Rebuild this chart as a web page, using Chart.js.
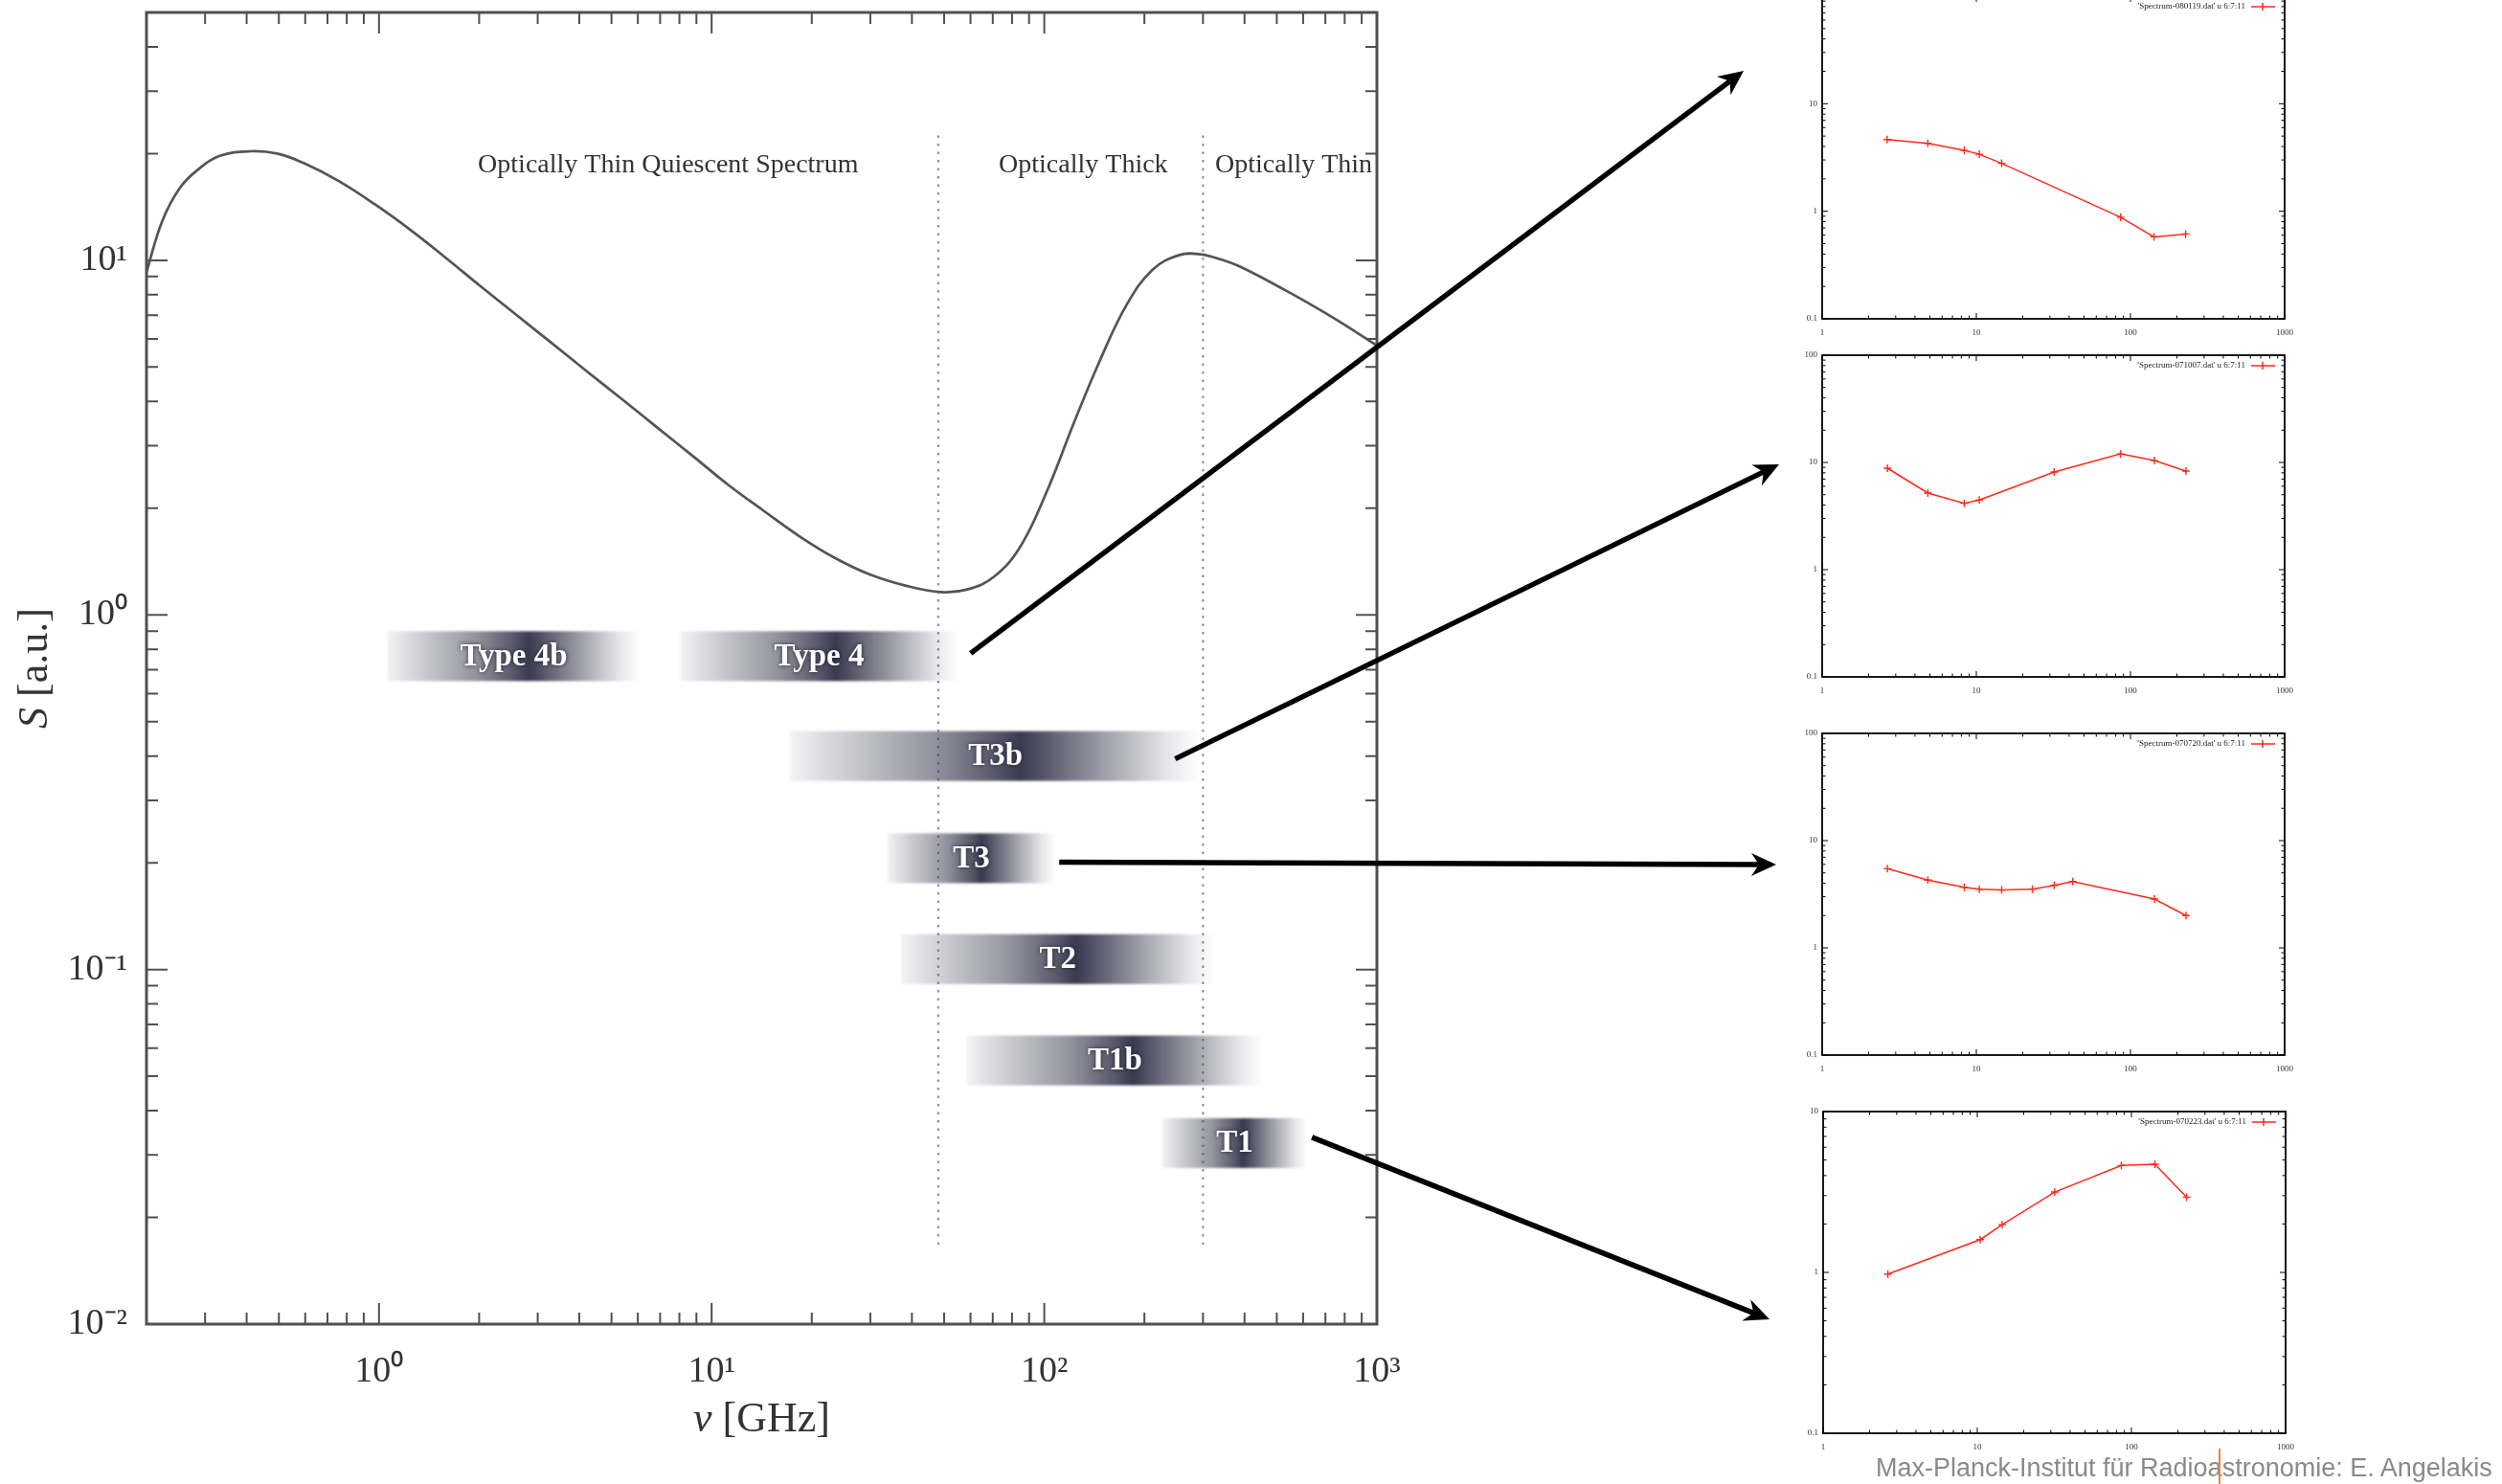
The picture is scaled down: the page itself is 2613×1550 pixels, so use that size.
<!DOCTYPE html>
<html>
<head>
<meta charset="utf-8">
<title>Blazar spectral evolution</title>
<script src="https://cdn.jsdelivr.net/npm/chart.js@4.4.1/dist/chart.umd.min.js"></script>
<style>
  html, body { margin: 0; padding: 0; background: #fff; width: 2613px; height: 1550px; overflow: hidden; }
  canvas { position: absolute; }
  #footer { position: absolute; left: 1959px; top: 1520px; font: 27px/27px "Liberation Sans", Arial, sans-serif; color: #8a8a8a; white-space: nowrap; }
  #cursor { position: absolute; left: 2317px; top: 1513px; width: 2px; height: 37px; background: #f08040; }
</style>
</head>
<body>
<canvas id="main" width="1500" height="1550" style="left:0;top:0"></canvas>
<canvas id="inset1"></canvas>
<canvas id="inset2"></canvas>
<canvas id="inset3"></canvas>
<canvas id="inset4"></canvas>
<canvas id="overlay" width="2613" height="1550" style="left:0;top:0;pointer-events:none"></canvas>
<div id="footer">Max-Planck-Institut für Radioastronomie: E. Angelakis</div>
<div id="cursor"></div>
<script>
// ---- Model spectrum: quiescent optically thin part plus a flaring component ----
const spectrumFreq = [0.2, 0.223, 0.252, 0.285, 0.332, 0.411, 0.494, 0.594, 0.759, 0.97,
  1.24, 1.58, 2.02, 2.58, 3.30, 4.22, 5.39, 6.88, 8.80, 11.2,
  14.4, 18.3, 23.4, 29.9, 38.2, 48.8, 58.7, 70.5, 84.8, 102,
  122, 147, 177, 212, 255, 295, 340, 392, 532, 723, 1000];
const spectrumFlux = [9.27, 12.9, 16.0, 18.0, 19.7, 20.3, 20.0, 18.8, 16.7, 14.4,
  12.2, 10.2, 8.45, 7.03, 5.85, 4.86, 4.05, 3.37, 2.80, 2.33,
  1.96, 1.67, 1.45, 1.30, 1.21, 1.16, 1.18, 1.28, 1.56, 2.24,
  3.43, 5.22, 7.50, 9.42, 10.35, 10.4, 10.05, 9.55, 8.22, 6.97, 5.75];

// Regime boundaries (GHz) and the vertical extent of the dotted markers
const regimeBoundaries = [48, 300];
const boundaryTop = 22.5;
const boundaryBottom = 0.0165;

// Regime captions, centred on these frequencies
const regimeNames = ['Optically Thin Quiescent Spectrum', 'Optically Thick', 'Optically Thin'];
const regimeCentres = [7.4, 131, 562];
const regimeCaptionLevel = 17.7;

// Spectral types: frequency span (GHz) and level (a.u.)
const typeLabels = ['Type 4b', 'Type 4', 'T3b', 'T3', 'T2', 'T1b', 'T1'];
const typeLow    = [1.06, 8.04, 17.2, 33.8, 37.1, 58.5, 226];
const typeHigh   = [6.09, 55.1, 296, 108, 325, 455, 617];
const typeLevel  = [0.765, 0.765, 0.40, 0.206, 0.107, 0.0554, 0.0324];

// Axis ticks
const mainXTicks = [1, 10, 100, 1000];
const mainXTickLabels = ['10⁰', '10¹', '10²', '10³'];
const mainYTicks = [0.01, 0.1, 1, 10];
const mainYTickLabels = ['10⁻²', '10⁻¹', '10⁰', '10¹'];

// ---- Observed example spectra (GHz, Jy) ----
const freq080119 = [2.64, 4.85, 8.35, 10.45, 14.6, 86.2, 142, 228];
const flux080119 = [4.64, 4.27, 3.68, 3.39, 2.79, 0.88, 0.578, 0.615];
const freq071007 = [2.65, 4.85, 8.35, 10.45, 32, 86.2, 143, 229];
const flux071007 = [8.84, 5.18, 4.16, 4.46, 8.15, 12.0, 10.4, 8.32];
const freq070720 = [2.65, 4.85, 8.35, 10.45, 14.6, 23.1, 32, 42.2, 143, 229];
const flux070720 = [5.47, 4.28, 3.67, 3.53, 3.46, 3.53, 3.83, 4.16, 2.85, 2.0];
const freq070223 = [2.63, 10.45, 14.5, 31.8, 86, 142, 228];
const flux070223 = [0.977, 1.60, 1.98, 3.16, 4.62, 4.71, 2.93];

const insetNames = ["'Spectrum-080119.dat' u 6:7:11", "'Spectrum-071007.dat' u 6:7:11",
                    "'Spectrum-070720.dat' u 6:7:11", "'Spectrum-070223.dat' u 6:7:11"];
const insetXTicks = [1, 10, 100, 1000];
const insetXTickLabels = ['1', '10', '100', '1000'];
const insetYTicks = [0.1, 1, 10, 100];
const insetYTickLabels = ['0.1', '1', '10', '100'];
const insetYMax = [100, 100, 100, 10];

// ---- Layout ----
const MAIN_AREA = { left: 153, top: 13, right: 1438, bottom: 1383 };
const INSET_AREAS = [
  { left: 1903, top: -4,   right: 2386, bottom: 333 },
  { left: 1903, top: 371,  right: 2386, bottom: 707 },
  { left: 1903, top: 766,  right: 2386, bottom: 1102 },
  { left: 1904, top: 1161, right: 2387, bottom: 1497 }
];
// arrow: [type label, dx, dy from the right end of that band] -> tip on the page
const ARROWS = [
  { from: 'Type 4', dx: 13,  dy: -3, tip: [1821, 74] },
  { from: 'T3b',    dx: -27, dy: 3,  tip: [1858, 485] },
  { from: 'T3',     dx: 4,   dy: 4,  tip: [1855, 903] },
  { from: 'T1',     dx: 5,   dy: -6, tip: [1848, 1378] }
];

const SERIF = '"Liberation Serif", "Times New Roman", serif';

function eachLogTick(min, max, cb) {
  const e0 = Math.floor(Math.log10(min)), e1 = Math.ceil(Math.log10(max));
  for (let e = e0; e <= e1; e++) {
    for (let m = 1; m <= 9; m++) {
      const v = m * Math.pow(10, e);
      if (v >= min * 0.9999 && v <= max * 1.0001) cb(v, m === 1);
    }
  }
}

function drawFrame(chart, st) {
  const { ctx, chartArea: a, scales: { x, y } } = chart;
  ctx.save();
  ctx.strokeStyle = st.color;
  ctx.lineWidth = st.tickWidth;
  ctx.beginPath();
  eachLogTick(x.min, x.max, (v, major) => {
    const p = x.getPixelForValue(v), L = major ? st.major : st.minor;
    ctx.moveTo(p, a.bottom); ctx.lineTo(p, a.bottom - L);
    ctx.moveTo(p, a.top); ctx.lineTo(p, a.top + L);
  });
  eachLogTick(y.min, y.max, (v, major) => {
    const p = y.getPixelForValue(v), L = major ? st.major : st.minor;
    ctx.moveTo(a.left, p); ctx.lineTo(a.left + L, p);
    ctx.moveTo(a.right, p); ctx.lineTo(a.right - L, p);
  });
  ctx.stroke();
  ctx.lineWidth = st.frameWidth;
  ctx.strokeRect(a.left, a.top, a.right - a.left, a.bottom - a.top);
  ctx.restore();
}

function drawMixed(ctx, parts, cx, baseline) {
  let w = 0;
  parts.forEach(p => { ctx.font = p.font; p.w = ctx.measureText(p.text).width; w += p.w; });
  let xx = cx - w / 2;
  ctx.textAlign = 'left';
  ctx.textBaseline = 'alphabetic';
  parts.forEach(p => { ctx.font = p.font; ctx.fillText(p.text, xx, baseline); xx += p.w; });
}

// ---- Main spectrum chart ----
const bandPlugin = {
  id: 'typeBands',
  afterDatasetsDraw(chart) {
    const { ctx, scales: { x, y } } = chart;
    const h = 52;
    typeLabels.forEach((lab, i) => {
      const x0 = x.getPixelForValue(typeLow[i]);
      const x1 = x.getPixelForValue(typeHigh[i]);
      const yc = y.getPixelForValue(typeLevel[i]);
      const g = ctx.createLinearGradient(x0, 0, x1, 0);
      const c = a => `rgba(58,58,80,${a})`;
      g.addColorStop(0.00, c(0.06));
      g.addColorStop(0.15, c(0.28));
      g.addColorStop(0.35, c(0.55));
      g.addColorStop(0.50, c(0.85));
      g.addColorStop(0.56, c(1.0));
      g.addColorStop(0.62, c(0.85));
      g.addColorStop(0.78, c(0.45));
      g.addColorStop(0.92, c(0.12));
      g.addColorStop(1.00, c(0.0));
      ctx.save();
      ctx.filter = 'blur(1px)';
      ctx.fillStyle = g;
      ctx.fillRect(x0, yc - h / 2, x1 - x0, h);
      ctx.restore();

      ctx.save();
      ctx.font = `bold 33px ${SERIF}`;
      ctx.textAlign = 'center';
      ctx.textBaseline = 'middle';
      ctx.shadowColor = 'rgba(20,20,35,0.85)';
      ctx.shadowBlur = 4;
      ctx.fillStyle = '#ffffff';
      ctx.fillText(lab, (x0 + x1) / 2, yc + 1);
      ctx.restore();
    });
  }
};

const mainDecor = {
  id: 'mainDecor',
  afterDraw(chart) {
    const { ctx, scales: { x, y } } = chart;
    drawFrame(chart, { color: '#505050', tickWidth: 2, frameWidth: 3, major: 22, minor: 12 });
    ctx.save();
    ctx.fillStyle = '#333';
    ctx.font = `28px ${SERIF}`;
    ctx.textAlign = 'center';
    ctx.textBaseline = 'alphabetic';
    regimeNames.forEach((t, i) => {
      ctx.fillText(t, x.getPixelForValue(regimeCentres[i]), y.getPixelForValue(regimeCaptionLevel));
    });
    // axis titles
    ctx.fillStyle = '#333';
    const cx = (chart.chartArea.left + chart.chartArea.right) / 2;
    drawMixed(ctx, [{ text: 'ν', font: `italic 44px ${SERIF}` }, { text: ' [GHz]', font: `44px ${SERIF}` }], cx, 1495);
    ctx.translate(49, (chart.chartArea.top + chart.chartArea.bottom) / 2);
    ctx.rotate(-Math.PI / 2);
    drawMixed(ctx, [{ text: 'S', font: `italic 44px ${SERIF}` }, { text: ' [a.u.]', font: `44px ${SERIF}` }], 0, 0);
    ctx.restore();
  }
};

const mainDatasets = [{
  data: spectrumFreq.map((f, i) => ({ x: f, y: spectrumFlux[i] })),
  borderColor: '#555555',
  borderWidth: 2.7,
  pointRadius: 0,
  tension: 0.4
}].concat(regimeBoundaries.map(f => ({
  data: [{ x: f, y: boundaryTop }, { x: f, y: boundaryBottom }],
  borderColor: '#8a8a8a',
  borderWidth: 2,
  borderDash: [2.5, 6],
  pointRadius: 0
})));

const mainChart = new Chart(document.getElementById('main'), {
  type: 'line',
  data: { datasets: mainDatasets },
  options: {
    responsive: false,
    animation: false,
    devicePixelRatio: 1,
    events: [],
    layout: { padding: { top: MAIN_AREA.top, right: 1500 - MAIN_AREA.right, left: 0, bottom: 0 } },
    plugins: { legend: { display: false }, tooltip: { enabled: false } },
    scales: {
      x: {
        type: 'logarithmic', min: 0.2, max: 1000,
        afterBuildTicks: s => { s.ticks = mainXTicks.map(v => ({ value: v })); },
        afterFit: s => { s.height = 1550 - MAIN_AREA.bottom; s.paddingLeft = 0; s.paddingRight = 0; },
        ticks: {
          autoSkip: false, maxRotation: 0, padding: 27, color: '#333',
          font: { family: SERIF, size: 38 },
          callback: v => mainXTickLabels[mainXTicks.indexOf(v)] ?? ''
        },
        grid: { display: false, drawTicks: false },
        border: { display: false }
      },
      y: {
        type: 'logarithmic', min: 0.01, max: 50,
        afterBuildTicks: s => { s.ticks = mainYTicks.map(v => ({ value: v })); },
        afterFit: s => { s.width = MAIN_AREA.left; s.paddingTop = 0; s.paddingBottom = 0; },
        ticks: {
          autoSkip: false, padding: 20, color: '#333',
          font: { family: SERIF, size: 38 },
          callback: v => mainYTickLabels[mainYTicks.findIndex(t => Math.abs(t - v) < t * 1e-6)] ?? ''
        },
        grid: { display: false, drawTicks: false },
        border: { display: false }
      }
    }
  },
  plugins: [bandPlugin, mainDecor]
});

// ---- Inset charts of measured spectra ----
const insetFreqs = [freq080119, freq071007, freq070720, freq070223];
const insetFluxes = [flux080119, flux071007, flux070720, flux070223];
const M = { left: 40, right: 20, top: 8, bottom: 25 };

function legendPlugin(name) {
  return {
    id: 'insetLegend',
    afterDraw(chart) {
      const { ctx, chartArea: a } = chart;
      drawFrame(chart, { color: '#000', tickWidth: 1, frameWidth: 1.8, major: 6, minor: 3.5 });
      const yy = a.top + 11 + (a.top < 0 ? 4 : 0);
      ctx.save();
      ctx.font = `9px ${SERIF}`;
      ctx.fillStyle = '#222';
      ctx.textAlign = 'right';
      ctx.textBaseline = 'middle';
      ctx.fillText(name, a.right - 41, yy);
      ctx.strokeStyle = '#ff2a1a';
      ctx.lineWidth = 1.5;
      ctx.beginPath();
      ctx.moveTo(a.right - 35, yy); ctx.lineTo(a.right - 10, yy);
      ctx.moveTo(a.right - 23, yy - 4); ctx.lineTo(a.right - 23, yy + 4);
      ctx.stroke();
      ctx.restore();
    }
  };
}

INSET_AREAS.forEach((box, k) => {
  const cv = document.getElementById('inset' + (k + 1));
  const w = box.right - box.left + M.left + M.right;
  const h = box.bottom - box.top + M.top + M.bottom;
  cv.width = w; cv.height = h;
  cv.style.left = (box.left - M.left) + 'px';
  cv.style.top = (box.top - M.top) + 'px';
  const yMax = insetYMax[k];
  const yTicks = insetYTicks.filter(v => v <= yMax);
  new Chart(cv, {
    type: 'line',
    data: {
      datasets: [{
        data: insetFreqs[k].map((f, i) => ({ x: f, y: insetFluxes[k][i] })),
        borderColor: '#ff2a1a',
        borderWidth: 1.5,
        pointStyle: 'cross',
        pointRadius: 4,
        pointBorderWidth: 1.4,
        pointBorderColor: '#ff2a1a',
        tension: 0
      }]
    },
    options: {
      responsive: false,
      animation: false,
      devicePixelRatio: 1,
      events: [],
      layout: { padding: { top: M.top, right: M.right, left: 0, bottom: 0 } },
      plugins: { legend: { display: false }, tooltip: { enabled: false } },
      scales: {
        x: {
          type: 'logarithmic', min: 1, max: 1000,
          afterBuildTicks: s => { s.ticks = insetXTicks.map(v => ({ value: v })); },
          afterFit: s => { s.height = M.bottom; s.paddingLeft = 0; s.paddingRight = 0; },
          ticks: {
            autoSkip: false, maxRotation: 0, padding: 9, color: '#333',
            font: { family: SERIF, size: 9 },
            callback: v => insetXTickLabels[insetXTicks.indexOf(v)] ?? ''
          },
          grid: { display: false, drawTicks: false },
          border: { display: false }
        },
        y: {
          type: 'logarithmic', min: 0.1, max: yMax,
          afterBuildTicks: s => { s.ticks = yTicks.map(v => ({ value: v })); },
          afterFit: s => { s.width = M.left; s.paddingTop = 0; s.paddingBottom = 0; },
          ticks: {
            autoSkip: false, padding: 5, color: '#333',
            font: { family: SERIF, size: 9 },
            callback: v => insetYTickLabels[insetYTicks.findIndex(t => Math.abs(t - v) < t * 1e-6)] ?? ''
          },
          grid: { display: false, drawTicks: false },
          border: { display: false }
        }
      }
    },
    plugins: [legendPlugin(insetNames[k])]
  });
});

// ---- Arrows from the spectral types to their example spectra ----
(function drawArrows() {
  const ctx = document.getElementById('overlay').getContext('2d');
  const x = mainChart.scales.x, y = mainChart.scales.y;
  ctx.fillStyle = '#000';
  ctx.strokeStyle = '#000';
  ARROWS.forEach(a => {
    const i = typeLabels.indexOf(a.from);
    const x0 = x.getPixelForValue(typeHigh[i]) + a.dx;
    const y0 = y.getPixelForValue(typeLevel[i]) + a.dy;
    const [x1, y1] = a.tip;
    const dx = x1 - x0, dy = y1 - y0, L = Math.hypot(dx, dy);
    const ux = dx / L, uy = dy / L, px = -uy, py = ux;
    const head = 26, half = 12, notch = 18;
    ctx.beginPath();
    ctx.lineWidth = 5.5;
    ctx.moveTo(x0, y0);
    ctx.lineTo(x1 - ux * notch, y1 - uy * notch);
    ctx.stroke();
    ctx.beginPath();
    ctx.moveTo(x1, y1);
    ctx.lineTo(x1 - ux * head + px * half, y1 - uy * head + py * half);
    ctx.lineTo(x1 - ux * notch, y1 - uy * notch);
    ctx.lineTo(x1 - ux * head - px * half, y1 - uy * head - py * half);
    ctx.closePath();
    ctx.fill();
  });
})();
</script>
</body>
</html>
